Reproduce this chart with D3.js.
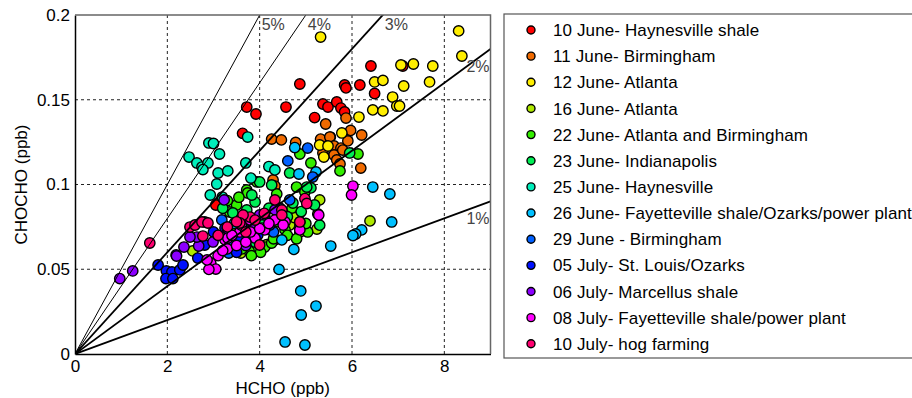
<!DOCTYPE html>
<html>
<head>
<meta charset="utf-8">
<script src="https://cdn.jsdelivr.net/npm/d3@7"></script>
<style>
body { margin: 0; background: #fff; }
text { font-family: Arial, "Liberation Sans", sans-serif; }
</style>
</head>
<body>
<div id="chart"></div>
<script>
// flight days, in plot order
var seriesNames = [
    "10 June- Haynesville shale",
    "11 June- Birmingham",
    "12 June- Atlanta",
    "16 June- Atlanta",
    "22 June- Atlanta and Birmingham",
    "23 June- Indianapolis",
    "25 June- Haynesville",
    "26 June- Fayetteville shale/Ozarks/power plant",
    "29 June - Birmingham",
    "05 July- St. Louis/Ozarks",
    "06 July- Marcellus shale",
    "08 July- Fayetteville shale/power plant",
    "10 July- hog farming"
];
var seriesColors = ["#ff0000", "#f06a00", "#ffee00", "#aee800", "#33ee00", "#00ee55",
    "#00eebb", "#00c0ff", "#0060ff", "#0010ff", "#8c00ff", "#ff00ff", "#ff0070"];

// [HCHO, CHOCHO] in ppb
var jun10 = [[3.72,0.1457],[3.92,0.1416],[3.63,0.1302],[4.57,0.1457],[4.87,0.1593],[6.41,0.1699],
    [5.84,0.1587],[5.87,0.157],[6.17,0.1587],[6.49,0.1537],[7.10,0.1699],[5.37,0.1475],[5.48,0.1457],
    [5.67,0.1487],[5.76,0.1451],[5.84,0.1428],[5.19,0.1395],[5.53,0.128],[3.05,0.0879]];
var jun11 = [[4.26,0.1268],[4.47,0.1263],[4.78,0.1248],[5.43,0.1357],[5.87,0.1392],[5.97,0.1319],
    [6.21,0.1292],[5.32,0.1268],[5.52,0.128],[5.61,0.1227],[5.76,0.1215],[5.91,0.1257],[5.37,0.1186],
    [5.61,0.1174],[5.80,0.1203],[5.67,0.1145],[5.74,0.1121],[6.19,0.1097],[4.29,0.1027],[4.33,0.0991],
    [4.87,0.0832]];
var jun12 = [[8.31,0.1906],[8.38,0.1758],[5.32,0.187],[7.06,0.1705],[7.33,0.1711],[7.75,0.1699],
    [6.49,0.1605],[6.67,0.1614],[7.12,0.1581],[7.68,0.1605],[6.88,0.1516],[6.97,0.1463],[7.03,0.1463],
    [6.45,0.144],[6.67,0.1434],[6.15,0.1398],[5.78,0.1304],[5.30,0.1233],[5.48,0.1227],[5.39,0.1162]];
var jun16 = [[6.39,0.0785],[5.30,0.0909],[5.26,0.0826],[5.24,0.0737],[3.92,0.0608],[3.59,0.0596],
    [2.55,0.0608],[4.65,0.0761],[4.87,0.072],[4.33,0.0673],[3.35,0.0684],[4.15,0.0645],[4.75,0.0805]];
var jun22 = [[3.94,0.1015],[3.72,0.0968],[3.74,0.095],[3.50,0.0879],[3.35,0.0838],[4.87,0.118],
    [5.11,0.1127],[5.74,0.108],[6.13,0.118],[4.80,0.0985],[4.98,0.0956],[3.94,0.0614],[4.11,0.0631],
    [4.26,0.0655],[5.04,0.072],[4.87,0.0743],[3.77,0.0608],[3.59,0.0655],[3.42,0.0714],[4.37,0.0944],
    [4.70,0.0861],[4.55,0.0732],[3.62,0.062],[4.30,0.068],[4.60,0.070],[4.80,0.068],[5.00,0.077],
    [4.40,0.078],[4.02,0.060],[3.82,0.058],[3.30,0.0905],[3.55,0.0925]];
var jun23 = [[4.00,0.1015],[4.26,0.0997],[4.65,0.1068],[5.11,0.098],[5.95,0.1186],[3.90,0.0897],
    [3.72,0.085],[3.83,0.0938],[5.02,0.0985],[3.83,0.0702],[4.72,0.0891],[3.42,0.0832],[4.22,0.0732],
    [4.05,0.079],[5.19,0.0879],[5.30,0.076],[3.57,0.0673],[4.44,0.0838],[3.70,0.078],[4.20,0.086],
    [4.60,0.081],[4.90,0.084],[3.90,0.066],[3.20,0.086]];
var jun25 = [[2.90,0.1245],[3.00,0.1242],[2.47,0.1162],[2.64,0.1127],[2.75,0.1103],[2.88,0.1127],
    [2.77,0.1088],[3.13,0.118],[3.10,0.1068],[3.31,0.108],[3.07,0.1003],[2.93,0.0938],[3.19,0.0926],
    [3.74,0.128],[3.70,0.1127],[3.81,0.1038],[4.20,0.1106],[4.33,0.1086]];
var jun26 = [[4.76,0.1218],[4.85,0.1062],[5.22,0.1074],[6.45,0.0985],[6.82,0.0944],[6.86,0.0779],
    [6.21,0.0732],[6.08,0.0708],[6.02,0.0699],[5.54,0.0637],[4.74,0.0617],[4.48,0.0673],[4.42,0.0499],
    [4.89,0.0372],[5.22,0.0283],[4.90,0.023],[4.55,0.0071],[4.98,0.0053],[4.05,0.0743],[3.45,0.077]];
var jun29 = [[5.04,0.1215],[4.61,0.1139],[5.15,0.1044],[4.65,0.0909],[3.33,0.0596],[3.18,0.0791],
    [4.11,0.082],[4.44,0.0861],[3.70,0.0732],[4.87,0.0779],[3.40,0.066],[3.80,0.069],[4.30,0.072],
    [3.60,0.080]];
var jul05 = [[1.80,0.0525],[1.98,0.049],[2.10,0.0484],[2.27,0.0496],[1.97,0.0445],[2.12,0.0445],
    [2.19,0.0584],[2.34,0.0525],[2.66,0.0566],[2.81,0.0643],[3.57,0.0673],[3.96,0.0702],[3.25,0.0743],
    [4.22,0.0761],[3.00,0.072],[3.50,0.060]];
var jul06 = [[0.97,0.0445],[1.25,0.049],[2.36,0.0631],[2.20,0.0578],[2.68,0.0637],[2.64,0.069],
    [2.49,0.069],[2.99,0.0661],[2.81,0.0779],[3.23,0.0909],[4.33,0.085],[4.00,0.082],[3.30,0.074],
    [3.70,0.064],[3.90,0.076]];
var jul08 = [[6.02,0.0991],[5.99,0.0938],[5.28,0.082],[2.94,0.0537],[3.05,0.0501],[2.90,0.0499],
    [2.86,0.0555],[3.25,0.0673],[3.31,0.0684],[3.57,0.072],[3.90,0.0684],[4.11,0.0732],[4.55,0.0779],
    [3.79,0.0791],[4.87,0.0732],[4.33,0.0791],[4.51,0.0761],[3.10,0.058],[3.30,0.062],[3.50,0.064],
    [3.70,0.066],[3.40,0.070],[3.80,0.072],[4.00,0.074],[4.20,0.077],[3.60,0.076],[3.20,0.061]];
var jul10 = [[1.62,0.0655],[2.49,0.0749],[2.60,0.0761],[2.75,0.0779],[2.88,0.0773],[2.77,0.0696],
    [3.79,0.0808],[3.64,0.082],[3.57,0.0773],[4.33,0.0909],[4.98,0.0917],[5.02,0.0888],[4.48,0.085],
    [4.48,0.082],[4.87,0.0779],[4.00,0.0643],[3.30,0.075],[3.50,0.078],[3.90,0.079],[4.10,0.083],
    [3.70,0.072],[3.10,0.070]];

var allSeries = [jun10, jun11, jun12, jun16, jun22, jun23, jun25, jun26, jun29, jul05, jul06, jul08, jul10];

// glyoxal / formaldehyde ratio lines
var ratios = [0.01, 0.02, 0.03, 0.04, 0.05];
var ratioLabels = ["1%", "2%", "3%", "4%", "5%"];

var xTicks = [0, 2, 4, 6, 8];
var yTicks = [0, 0.05, 0.1, 0.15, 0.2];

var svgWidth = 912;
var svgHeight = 398;
var margin = { top: 15, right: 421.5, bottom: 44, left: 75 };
var width = svgWidth - margin.left - margin.right;
var height = svgHeight - margin.top - margin.bottom;

var svg = d3.select("#chart")
    .append("svg")
    .attr("width", svgWidth)
    .attr("height", svgHeight);

var chartGroup = svg.append("g")
    .attr("transform", `translate(${margin.left}, ${margin.top})`);

var xScale = d3.scaleLinear().domain([0, 9]).range([0, width]);
var yScale = d3.scaleLinear().domain([0, 0.2]).range([height, 0]);

chartGroup.append("clipPath").attr("id", "plotClip")
    .append("rect").attr("width", width).attr("height", height);

// dashed grid
chartGroup.append("g").selectAll("line")
    .data(xTicks.slice(1))
    .enter().append("line")
    .attr("x1", d => xScale(d)).attr("x2", d => xScale(d))
    .attr("y1", 0).attr("y2", height)
    .attr("stroke", "#222").attr("stroke-dasharray", "3,3");
chartGroup.append("g").selectAll("line")
    .data(yTicks.slice(1, -1))
    .enter().append("line")
    .attr("y1", d => yScale(d)).attr("y2", d => yScale(d))
    .attr("x1", 0).attr("x2", width)
    .attr("stroke", "#222").attr("stroke-dasharray", "3,3");

// points
var plotArea = chartGroup.append("g").attr("clip-path", "url(#plotClip)");
allSeries.forEach(function(points, i) {
    plotArea.append("g").selectAll("circle")
        .data(points)
        .enter().append("circle")
        .attr("cx", d => xScale(d[0]))
        .attr("cy", d => yScale(d[1]))
        .attr("r", 5.2)
        .attr("fill", seriesColors[i])
        .attr("stroke", "#000")
        .attr("stroke-width", 1.4);
});

// ratio lines on top of the points
plotArea.selectAll(".ratio")
    .data(ratios)
    .enter().append("line")
    .attr("class", "ratio")
    .attr("x1", xScale(0)).attr("y1", yScale(0))
    .attr("x2", xScale(9)).attr("y2", d => yScale(9 * d))
    .attr("stroke", "#000")
    .attr("stroke-width", d => d > 0.035 ? 1 : 1.8);

chartGroup.selectAll(".ratioLabel")
    .data(ratios)
    .enter().append("text")
    .attr("class", "ratioLabel")
    .attr("x", d => d >= 0.03 ? xScale(0.2 / d) + 2 : width - 1)
    .attr("y", d => d >= 0.03 ? 15 : yScale(9 * d) + 23)
    .attr("text-anchor", d => d >= 0.03 ? "start" : "end")
    .attr("font-size", "16px")
    .attr("fill", "#444")
    .text((d, i) => ratioLabels[i]);

// axes
var bottomAxis = d3.axisBottom(xScale).tickValues(xTicks).tickSize(0).tickPadding(6);
var leftAxis = d3.axisLeft(yScale).tickValues(yTicks).tickSize(0).tickPadding(5)
    .tickFormat(d3.format(""));

var xAxisG = chartGroup.append("g")
    .attr("transform", `translate(0, ${height})`)
    .call(bottomAxis);
var yAxisG = chartGroup.append("g").call(leftAxis);

[xAxisG, yAxisG].forEach(function(g) {
    g.select(".domain").attr("stroke", "#000").attr("stroke-width", 1.5);
    g.selectAll("text").attr("font-size", "17px").attr("fill", "#000")
        .style("font-family", "Arial, 'Liberation Sans', sans-serif");
});

chartGroup.append("path")
    .attr("d", `M0,0H${width}V${height}`)
    .attr("fill", "none")
    .attr("stroke", "#666")
    .attr("stroke-width", 1.5);

// axis labels
chartGroup.append("text")
    .attr("x", width / 2)
    .attr("y", height + 40)
    .attr("text-anchor", "middle")
    .attr("font-size", "17px")
    .text("HCHO (ppb)");

chartGroup.append("text")
    .attr("transform", "rotate(-90)")
    .attr("x", -(height / 2))
    .attr("y", -48)
    .attr("text-anchor", "middle")
    .attr("font-size", "17px")
    .text("CHOCHO (ppb)");

// legend
var legend = svg.append("g").attr("transform", "translate(504, 14)");
legend.append("rect")
    .attr("width", 430).attr("height", 344)
    .attr("fill", "#fff").attr("stroke", "#555").attr("stroke-width", 1.2);

var rows = legend.selectAll(".row")
    .data(seriesNames)
    .enter().append("g")
    .attr("transform", (d, i) => `translate(0, ${16 + i * 26.15})`);
rows.append("circle")
    .attr("cx", 27).attr("r", 4)
    .attr("fill", (d, i) => seriesColors[i])
    .attr("stroke", "#000").attr("stroke-width", 1.4);
rows.append("text")
    .attr("x", 49).attr("dy", "0.36em")
    .attr("font-size", "17px")
    .attr("letter-spacing", "0.12px")
    .text(d => d);
</script>
</body>
</html>
